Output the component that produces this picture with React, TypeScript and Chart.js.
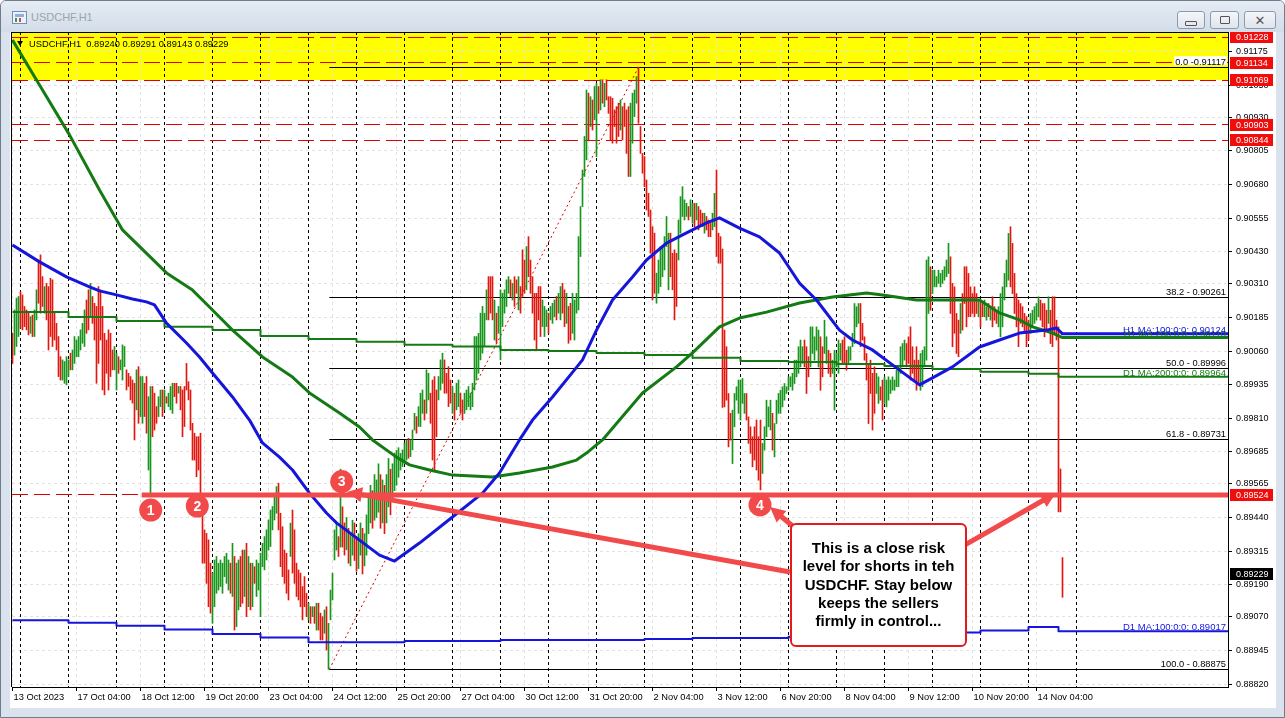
import React, { useEffect, useRef } from "react";
import { Chart, registerables } from "chart.js";

Chart.register(...registerables);

// ---------------- data ----------------
const symbolTitle = "USDCHF,H1";
const lastBarOHLC = [0.8924, 0.89291, 0.89143, 0.89229];

const timeLabels = [
  "13 Oct 2023", "17 Oct 04:00", "18 Oct 12:00", "19 Oct 20:00", "23 Oct 04:00", "24 Oct 12:00",
  "25 Oct 20:00", "27 Oct 04:00", "30 Oct 12:00", "31 Oct 20:00", "2 Nov 04:00", "3 Nov 12:00",
  "6 Nov 20:00", "8 Nov 04:00", "9 Nov 12:00", "10 Nov 20:00", "14 Nov 04:00",
];
const barsPerTimeLabel = 32;
const firstSessionBar = 4;
const barsPerDay = 24;
const daySeparatorCount = 23;

const priceTicks = [
  0.91175, 0.9105, 0.9093, 0.90805, 0.9068, 0.90555, 0.9043, 0.9031, 0.90185, 0.9006,
  0.89935, 0.8981, 0.89685, 0.89565, 0.8944, 0.89315, 0.8919, 0.8907, 0.88945, 0.8882,
];

// hourly bars, prices x 100000
const barHigh5 = [
  90126,90213,90257,90263,90281,90269,90226,90213,90201,90188,
  90194,90213,90288,90399,90418,90337,90300,90312,90300,90331,
  90325,90201,90163,90114,90039,90027,90021,90039,90027,90052,
  90064,90114,90101,90114,90139,90163,90213,90250,90288,90312,
  90263,90238,90226,90300,90288,90226,90126,90101,90139,90126,
  90064,90077,90052,90039,90027,90083,90077,89990,89977,89965,
  89952,89940,89990,90002,89965,89965,89940,89965,89890,89928,
  89928,89903,89853,89890,89915,89915,89915,89890,89903,89928,
  89940,89940,89940,89928,89928,89915,89928,90014,89946,89915,
  89791,89754,89741,89741,89754,89506,89394,89381,89357,89270,
  89233,89282,89295,89270,89282,89270,89295,89307,89282,89270,
  89344,89295,89270,89282,89295,89319,89319,89344,89295,89270,
  89270,89257,89282,89270,89307,89344,89369,89394,89431,89468,
  89481,89518,89555,89568,89456,89406,89319,89307,89245,89419,
  89468,89394,89270,89245,89233,89183,89220,89158,89121,89108,
  89108,89108,89121,89121,89084,89071,89096,89108,89046,89170,
  89233,89394,89419,89369,89620,89480,89420,89440,89400,89380,
  89430,89420,89360,89380,89420,89400,89380,89450,89520,89560,
  89540,89600,89580,89640,89600,89580,89560,89600,89660,89620,
  89640,89680,89690,89700,89679,89692,89717,89729,89735,89729,
  89766,89828,89816,89853,89903,89915,89878,89990,89977,89903,
  89952,89965,89915,89965,90027,90052,90027,89977,90002,89952,
  89928,89903,89940,89952,89903,89878,89903,89915,89928,89903,
  89940,90114,90114,90126,90201,90226,90201,90288,90337,90337,
  90337,90250,90201,90226,90288,90275,90288,90325,90337,90325,
  90312,90337,90325,90337,90300,90437,90399,90449,90486,90399,
  90337,90275,90275,90300,90300,90250,90226,90213,90201,90226,
  90238,90250,90263,90275,90300,90312,90288,90275,90226,90238,
  90275,90250,90275,90486,90598,90734,90859,91032,91020,91007,
  90995,91045,91057,91045,91070,91070,91057,91070,91007,91007,
  91001,90958,90970,90983,90995,90970,90983,90958,90970,90983,
  91020,91032,91082,91117,90896,90796,90784,90697,90647,90585,
  90523,90499,90350,90399,90449,90449,90486,90561,90499,90499,
  90424,90437,90424,90548,90635,90672,90623,90610,90598,90623,
  90610,90610,90610,90598,90585,90573,90573,90561,90548,90536,
  90573,90647,90734,90499,90486,90440,90138,90076,89902,89828,
  89840,89902,89927,89952,89952,89958,89902,89902,89815,89778,
  89741,89778,89803,89741,89803,89716,89778,89877,89852,89877,
  89828,89790,89877,89902,89914,89927,89939,89927,89964,89964,
  89977,90026,90026,90076,90101,90076,90101,90076,90039,90150,
  90150,90113,90150,90138,90113,90076,90175,90113,90063,90051,
  90026,90063,90051,90101,90088,90101,90113,90063,90076,90076,
  90126,90237,90225,90237,90237,90163,90113,90051,90014,90026,
  89977,90001,89977,89964,89927,89952,89964,89952,89964,89952,
  89964,89952,89989,90001,90076,90088,90101,90088,90113,90150,
  90076,90026,90076,90026,90051,90063,90076,90399,90411,90374,
  90361,90361,90337,90361,90349,90361,90374,90399,90461,90411,
  90312,90299,90200,90175,90237,90274,90374,90374,90349,90299,
  90274,90299,90274,90250,90250,90237,90250,90225,90237,90225,
  90262,90225,90212,90225,90274,90299,90349,90399,90498,90523,
  90461,90349,90274,90250,90237,90225,90200,90188,90175,90200,
  90212,90225,90237,90262,90250,90237,90237,90212,90262,90212,
  90262,90262,90175,90150,89621,89291,
];
const barLow5 = [
  90014,90045,90077,90114,90145,90139,90151,90139,90120,90126,
  90114,90114,90176,90238,90201,90226,90201,90176,90064,90114,
  90077,90101,90064,89965,89952,89952,89940,89934,89965,89990,
  89990,90014,90039,90039,90064,90089,90077,90126,90139,90188,
  90163,90101,89940,90014,90101,89915,89897,89977,89915,89965,
  89990,89990,89915,89977,89990,89952,90002,89915,89928,89878,
  89866,89729,89841,89791,89816,89791,89816,89754,89617,89527,
  89741,89766,89791,89816,89853,89816,89841,89866,89853,89841,
  89828,89890,89866,89903,89841,89741,89779,89915,89878,89766,
  89654,89654,89592,89617,89525,89270,89270,89195,89108,89084,
  89046,89108,89158,89170,89183,89158,89220,89195,89170,89158,
  89146,89021,89034,89096,89108,89121,89146,89071,89108,89096,
  89108,89195,89146,89170,89071,89257,89245,89282,89319,89332,
  89394,89431,89456,89394,89257,89220,89195,89158,89133,89295,
  89233,89195,89146,89133,89108,89059,89108,89071,89059,89046,
  89071,89046,89021,89021,88984,88984,89009,88947,88875,89059,
  89133,89282,89319,89295,89330,89330,89300,89320,89270,89260,
  89300,89280,89240,89250,89300,89230,89260,89300,89380,89420,
  89400,89430,89440,89460,89400,89420,89380,89420,89480,89450,
  89500,89540,89560,89590,89617,89630,89642,89654,89661,89667,
  89692,89766,89754,89779,89779,89828,89803,89828,89878,89791,
  89654,89617,89741,89878,89915,89940,89903,89903,89853,89866,
  89828,89803,89841,89853,89828,89803,89828,89841,89853,89841,
  89853,89915,89952,89977,90027,90052,90077,90176,90176,90201,
  90176,90101,90089,90126,90027,90151,90201,90226,90275,90263,
  90250,90226,90275,90213,90201,90263,90275,90288,90337,90275,
  90201,90101,90064,90176,90114,90151,90114,90151,90126,90176,
  90163,90188,90176,90201,90176,90201,90151,90163,90089,90101,
  90126,90101,90201,90213,90412,90598,90710,90772,90846,90896,
  90883,90921,90784,90945,90958,90983,90970,90995,90945,90846,
  90834,90896,90834,90859,90883,90846,90896,90796,90710,90710,
  90834,90933,90983,90908,90796,90722,90672,90585,90561,90424,
  90250,90275,90238,90275,90300,90337,90362,90449,90288,90337,
  90288,90176,90226,90399,90499,90561,90548,90561,90548,90561,
  90536,90523,90548,90511,90523,90523,90499,90511,90486,90486,
  90511,90523,90412,90387,90387,89850,89852,89877,89703,89728,
  89641,89778,89877,89828,89803,89865,89828,89803,89716,89679,
  89629,89654,89617,89579,89543,89604,89691,89741,89778,89766,
  89691,89666,89790,89828,89828,89852,89877,89902,89914,89927,
  89914,89939,89964,89977,90001,90014,90001,89902,89964,90001,
  90051,90026,90063,90001,89914,89964,90051,90014,89977,89964,
  89977,89840,90001,89977,90026,90014,90014,89989,90014,90026,
  90076,90088,90150,90163,90076,90101,90026,89952,89790,89902,
  89766,89828,89902,89865,89877,89803,89865,89852,89877,89902,
  89914,89914,89927,89927,89977,90001,90026,90001,90014,89952,
  89977,89952,89914,89939,89914,89927,90001,90026,90200,90212,
  90274,90299,90299,90312,90299,90312,90324,90337,90349,90200,
  90076,90126,90051,90039,90126,90138,90237,90150,90188,90188,
  90200,90188,90200,90188,90150,90188,90188,90175,90188,90175,
  90150,90175,90163,90150,90113,90150,90250,90299,90324,90299,
  90274,90200,90150,90076,90163,90150,90126,90076,90101,90126,
  90150,90163,90175,90188,90175,90150,90113,90138,90163,90088,
  90076,90126,90101,89461,89461,89143,
];
// u = bullish (green), d = bearish (red)
const barDirection =
  "duuudddddu" + "duuddduddd" + "ddddduuuud" + "uuuuuuuddu" + "dddddddddd" +
  "duuduuuddd" + "dduduudduu" + "ddduududuu" + "uddudddddd" + "dddddddddd" +
  "uuuuuuuuud" + "uduuddudud" + "uduuuuuuuu" + "uuuddddddu" + "ddddddddud" +
  "ududdduduu" + "uuududdudu" + "udduuduuuu" + "duuududuud" + "uuuuuuuudu" +
  "uuduuuduud" + "ddduuudddd" + "uduudduuuu" + "uuuuuuuudd" + "duduuuuuud" +
  "uddudddudd" + "ddddduuudu" + "uuduuddudd" + "uuuuuuuudu" + "duudududdd" +
  "dddduddddu" + "uuuddddddd" + "dduuuuuuud" + "ddduuuuudu" + "ududdduddd" +
  "uudddddddd" + "uuuuuuuddd" + "ddddduuuuu" + "duuuuuuuuu" + "uuuuuudddu" +
  "uuuudduudd" + "uuuuuddduu" + "uuuudddddd" + "dduudduuuu" + "uuuuuuuddd" +
  "dddduuuuud" + "uuuuuuuuud" + "dddduddddd" + "dddudduudu" + "ddduuuuuud" +
  "dddddddddu" + "uuuuddddud" + "dddddd";

// moving averages: [bar index, price]
const h1Ma100 = [
  [0, 0.90455], [13.5, 0.90392], [27, 0.90336], [38.5, 0.90299], [43.5, 0.90284], [52, 0.90269],
  [60, 0.90254], [67, 0.90243], [71, 0.90232], [77, 0.90164], [87, 0.9009], [93.5, 0.90038],
  [100, 0.89978], [110, 0.89889], [118.5, 0.89803], [125, 0.89718], [133.5, 0.89665], [140, 0.89617],
  [148.5, 0.89531], [157, 0.89457], [162, 0.8942], [173.5, 0.89356], [183.5, 0.893], [191, 0.89278],
  [203.5, 0.89345], [220, 0.89442], [235, 0.89531], [243.5, 0.89606], [253.5, 0.89729], [260, 0.89803],
  [270, 0.89889], [282, 0.89999], [285, 0.90027], [292, 0.90138], [300, 0.9025], [310, 0.90336],
  [317, 0.90399], [327, 0.90462], [337, 0.905], [347, 0.90537], [353.5, 0.90556], [363.5, 0.90518],
  [373.5, 0.90485], [383.5, 0.90425], [393.5, 0.90313], [402, 0.9025], [413.5, 0.90138], [420, 0.90101],
  [430, 0.90064], [443.5, 0.89989], [453.5, 0.89934], [460, 0.8996], [470, 0.90001], [483.5, 0.90075],
  [493.5, 0.90101], [503.5, 0.90127], [517, 0.90138], [522, 0.90146], [525, 0.90124],
];
const h1Ma200 = [
  [0, 0.91218], [13.5, 0.91051], [28.5, 0.90865], [43.5, 0.9066], [55, 0.90511], [77, 0.90351],
  [90, 0.90287], [100, 0.90213], [110, 0.90138], [125, 0.90038], [140, 0.89963], [148.5, 0.89904],
  [163.5, 0.89829], [173.5, 0.89777], [180, 0.89729], [192, 0.89665], [198.5, 0.89636], [208.5, 0.89617],
  [220, 0.89598], [240, 0.89591], [253.5, 0.89606], [270, 0.89628], [282, 0.89654], [287, 0.8968],
  [295, 0.89729], [303.5, 0.89803], [315, 0.89904], [332, 0.90001], [340, 0.90053], [353.5, 0.9015],
  [363.5, 0.90183], [377, 0.90205], [393.5, 0.90239], [410, 0.90261], [427, 0.90276], [435, 0.90269],
  [452, 0.9025], [483.5, 0.9025], [493.5, 0.90202], [503.5, 0.90176], [510, 0.9015], [520, 0.90127],
  [525, 0.9011],
];
// daily MAs (one value per trading day, starting at these bars)
const dailyStarts = [0, 28, 52, 76, 100, 124, 148, 172, 196, 220, 244, 268, 292, 316, 340, 364, 388, 412, 436, 460, 484, 508, 523];
const d1Ma200 = [0.90205, 0.90187, 0.90172, 0.9015, 0.90138, 0.90116, 0.90105, 0.90095, 0.90083, 0.90077, 0.90064, 0.9006, 0.90053, 0.90045, 0.90035, 0.90023, 0.90019, 0.90012, 0.90004, 0.89993, 0.89983, 0.89975, 0.89964];
const d1Ma100 = [0.89058, 0.89048, 0.89037, 0.89023, 0.89006, 0.88993, 0.88976, 0.88976, 0.8898, 0.8898, 0.88984, 0.88984, 0.88984, 0.88988, 0.88991, 0.88991, 0.88996, 0.89001, 0.89006, 0.89012, 0.89019, 0.89032, 0.89017];

const maLabelTexts = ["H1 MA:100:0:0: 0.90124", "H1 MA:200:0:0: 0.90110", "D1 MA:200:0:0: 0.89964", "D1 MA:100:0:0: 0.89017"];
const maLabelPrices = [0.90124, 0.9011, 0.89964, 0.89017];

const redLevels = [0.91228, 0.91134, 0.91069, 0.90903, 0.90844, 0.89524];
const yellowZone = [0.91069, 0.913];
const keyLevel = 0.89524;
const keyLevelStartBar = 64.6;

const fibHigh = 0.91117;
const fibLow = 0.88875;
const fibLowBar = 158.4;
const fibHighBar = 313;
const fibLevels = [0, 38.2, 50, 61.8, 100];
const fibLabels = ["0.0 -0.91117", "38.2 - 0.90261", "50.0 - 0.89996", "61.8 - 0.89731", "100.0 - 0.88875"];

const markerTexts = ["1", "2", "3", "4"];
const markerBars = [69.1, 92.4, 164.6, 373.75];
const markerPrices = [0.89468, 0.89483, 0.89574, 0.89487];

const noteLines = ["This is a close risk", "level for shorts in teh", "USDCHF. Stay below", "keeps the sellers", "firmly in control..."];
const noteBars = [389.25, 476.75];
const notePrices = [0.89416, 0.88962];
const arrowFrom = [[388.75, 0.89237], [391.25, 0.89401], [476.25, 0.89338]];
const arrowTo = [[167.25, 0.89535], [378.75, 0.89479], [521.75, 0.89531]];

// ---------------- view ----------------
const X_MIN = -0.25;
const X_MAX = 607.75;
const Y_MIN = 0.88809;
const Y_MAX = 0.91248;

const COL = {
  up: "#16961a",
  down: "#e3170f",
  blue: "#1515dc",
  green: "#147a14",
  key: "#f24a4a",
  red: "#e00000",
  grid: "#e2e2e2",
};
const SANS = "'Liberation Sans', Arial, sans-serif";

function seg(ctx: any, x1: number, y1: number, x2: number, y2: number) {
  ctx.beginPath();
  ctx.moveTo(x1, y1);
  ctx.lineTo(x2, y2);
  ctx.stroke();
}
const crisp = (v: number) => Math.floor(v) + 0.5;

function arrow(ctx: any, x1: number, y1: number, x2: number, y2: number, w: number, head: number) {
  const a = Math.atan2(y2 - y1, x2 - x1);
  const c = Math.cos(a), s = Math.sin(a);
  ctx.lineWidth = w;
  ctx.lineCap = "butt";
  seg(ctx, x1, y1, x2 - c * head * 0.8, y2 - s * head * 0.8);
  ctx.beginPath();
  ctx.moveTo(x2, y2);
  ctx.lineTo(x2 - c * head + s * head * 0.5, y2 - s * head - c * head * 0.5);
  ctx.lineTo(x2 - c * head - s * head * 0.5, y2 - s * head + c * head * 0.5);
  ctx.closePath();
  ctx.fill();
}

const noPad = (s: any) => {
  s.paddingLeft = 0;
  s.paddingRight = 0;
  s.paddingTop = 0;
  s.paddingBottom = 0;
};

const decorations = {
  id: "mtDecor",
  beforeDatasetsDraw(chart: any) {
    const { ctx, chartArea: a, scales } = chart;
    const X = (v: number) => scales.x.getPixelForValue(v);
    const Y = (v: number) => scales.y.getPixelForValue(v);
    ctx.save();
    ctx.beginPath();
    ctx.rect(a.left, a.top, a.right - a.left, a.bottom - a.top);
    ctx.clip();
    // yellow zone
    const yz1 = Y(yellowZone[1]), yz0 = Y(yellowZone[0]);
    ctx.fillStyle = "#ffff00";
    ctx.fillRect(a.left, yz1, a.right - a.left, yz0 - yz1);
    // light grid
    ctx.lineWidth = 1;
    ctx.strokeStyle = COL.grid;
    ctx.setLineDash([3, 3]);
    priceTicks.forEach((p) => { const y = crisp(Y(p)); seg(ctx, a.left, y, a.right, y); });
    timeLabels.forEach((_, k) => { const x = crisp(X(k * barsPerTimeLabel)); seg(ctx, x, a.top, x, a.bottom); });
    // day separators
    ctx.strokeStyle = "#000";
    for (let k = 0; k < daySeparatorCount; k++) {
      const x = crisp(X(firstSessionBar + k * barsPerDay));
      seg(ctx, x, a.top, x, a.bottom);
    }
    // red dashed levels
    ctx.strokeStyle = COL.red;
    ctx.setLineDash([16, 6]);
    redLevels.forEach((p) => { const y = crisp(Y(p)); seg(ctx, a.left, y, a.right, y); });
    // fibonacci
    ctx.setLineDash([]);
    ctx.strokeStyle = "#000";
    const fx = X(fibLowBar);
    fibLevels.forEach((lv) => {
      const y = crisp(Y(fibHigh - ((fibHigh - fibLow) * lv) / 100));
      seg(ctx, fx, y, a.right, y);
    });
    ctx.strokeStyle = COL.red;
    ctx.setLineDash([2, 3]);
    seg(ctx, X(fibLowBar), Y(fibLow), X(fibHighBar), Y(fibHigh));
    ctx.restore();
  },
  afterDatasetsDraw(chart: any) {
    const { ctx, chartArea: a, scales } = chart;
    const X = (v: number) => scales.x.getPixelForValue(v);
    const Y = (v: number) => scales.y.getPixelForValue(v);
    ctx.save();
    ctx.beginPath();
    ctx.rect(a.left, a.top, a.right - a.left, a.bottom - a.top);
    ctx.clip();
    ctx.setLineDash([]);

    // text labels (fib + MA)
    ctx.font = `9.3px ${SANS}`;
    ctx.textAlign = "right";
    ctx.textBaseline = "alphabetic";
    fibLevels.forEach((lv, i) => {
      const y = Y(fibHigh - ((fibHigh - fibLow) * lv) / 100);
      if (lv === 0) {
        const w = ctx.measureText(fibLabels[i]).width;
        ctx.fillStyle = "#fff";
        ctx.fillRect(a.right - 3 - w, y - 11, w + 2, 9);
      }
      ctx.fillStyle = "#000";
      ctx.fillText(fibLabels[i], a.right - 2, y - 2);
    });
    const maColors = [COL.blue, COL.green, COL.green, COL.blue];
    ctx.font = `9.5px ${SANS}`;
    [1, 0, 2, 3].forEach((i) => {
      ctx.fillStyle = maColors[i];
      ctx.fillText(maLabelTexts[i], a.right - 2, Y(maLabelPrices[i]) - 1);
    });

    // key level thick line
    ctx.strokeStyle = COL.key;
    ctx.lineWidth = 5;
    seg(ctx, X(keyLevelStartBar), Y(keyLevel), a.right, Y(keyLevel));

    // arrows
    ctx.fillStyle = COL.key;
    arrowFrom.forEach((f, i) => {
      const t = arrowTo[i];
      arrow(ctx, X(f[0]), Y(f[1]), X(t[0]), Y(t[1]), 5, 15);
    });

    // note box
    const bx0 = X(noteBars[0]), bx1 = X(noteBars[1]);
    const by0 = Y(notePrices[0]), by1 = Y(notePrices[1]);
    ctx.beginPath();
    if (ctx.roundRect) ctx.roundRect(bx0, by0, bx1 - bx0, by1 - by0, 5);
    else ctx.rect(bx0, by0, bx1 - bx0, by1 - by0);
    ctx.fillStyle = "#ffffff";
    ctx.fill();
    ctx.lineWidth = 2;
    ctx.strokeStyle = "#e31b1b";
    ctx.stroke();
    ctx.fillStyle = "#000";
    ctx.font = `bold 15px ${SANS}`;
    ctx.textAlign = "center";
    ctx.textBaseline = "middle";
    const cx = (bx0 + bx1) / 2;
    noteLines.forEach((t, i) => ctx.fillText(t, cx, by0 + 25 + i * 18.2));

    // numbered markers
    markerTexts.forEach((t, i) => {
      const x = X(markerBars[i]), y = Y(markerPrices[i]);
      ctx.beginPath();
      ctx.arc(x, y, 11.5, 0, Math.PI * 2);
      ctx.fillStyle = COL.key;
      ctx.fill();
      ctx.fillStyle = "#fff";
      ctx.font = `bold 14px ${SANS}`;
      ctx.fillText(t, x, y + 1);
    });

    // header
    ctx.fillStyle = "#000";
    ctx.beginPath();
    ctx.moveTo(a.left + 5, a.top + 9);
    ctx.lineTo(a.left + 11, a.top + 9);
    ctx.lineTo(a.left + 8, a.top + 14);
    ctx.closePath();
    ctx.fill();
    ctx.font = `9.3px ${SANS}`;
    ctx.textAlign = "left";
    ctx.textBaseline = "alphabetic";
    ctx.fillText(`${symbolTitle}  ${lastBarOHLC.map((v) => v.toFixed(5)).join(" ")}`, a.left + 17, a.top + 15);
    ctx.restore();

    // plot frame (left / top)
    ctx.save();
    ctx.strokeStyle = "#000";
    ctx.lineWidth = 1;
    seg(ctx, a.left - 0.5, a.top + 0.5, a.right, a.top + 0.5);
    seg(ctx, a.left - 0.5, a.top, a.left - 0.5, a.bottom);
    ctx.restore();
  },
  afterDraw(chart: any) {
    const { ctx, chartArea: a, scales } = chart;
    const Y = (v: number) => scales.y.getPixelForValue(v);
    ctx.save();
    ctx.font = `9px ${SANS}`;
    ctx.textAlign = "left";
    ctx.textBaseline = "middle";
    const box = (p: number, bg: string) => {
      const y = Math.round(Y(p));
      ctx.fillStyle = bg;
      ctx.fillRect(a.right + 2, y - 6, 43, 12);
      ctx.fillStyle = "#fff";
      ctx.fillText(p.toFixed(5), a.right + 8, y + 0.5);
    };
    redLevels.forEach((p) => box(p, "#f20d0d"));
    box(lastBarOHLC[3], "#000");
    ctx.restore();
  },
};

export default function App() {
  const ref = useRef<HTMLCanvasElement | null>(null);

  useEffect(() => {
    const n = Math.min(barHigh5.length, barLow5.length, barDirection.length);
    const bars: any[] = [];
    const colors: string[] = [];
    for (let i = 0; i < n; i++) {
      bars.push({ x: i, y: [barLow5[i] / 1e5, barHigh5[i] / 1e5] });
      colors.push(barDirection[i] === "u" ? COL.up : COL.down);
    }
    const toPts = (arr: number[][]) => [
      ...arr.map(([x, y]) => ({ x, y })),
      { x: X_MAX, y: arr[arr.length - 1][1] },
    ];
    const stepPts = (vals: number[]) => [
      ...dailyStarts.map((s, i) => ({ x: s, y: vals[i] })),
      { x: X_MAX, y: vals[vals.length - 1] },
    ];
    const lineDs = (data: any[], color: string, width: number, order: number, stepped = false) => ({
      type: "line",
      data,
      borderColor: color,
      borderWidth: width,
      pointRadius: 0,
      tension: 0,
      stepped: stepped ? "before" : false,
      borderJoinStyle: "round",
      fill: false,
      order,
    });

    const chart = new Chart(ref.current as HTMLCanvasElement, {
      type: "bar",
      data: {
        datasets: [
          { type: "bar", data: bars, backgroundColor: colors, barThickness: 1, borderWidth: 0, grouped: false, order: 10 } as any,
          lineDs(stepPts(d1Ma200), COL.green, 2, 5, true),
          lineDs(stepPts(d1Ma100), COL.blue, 2, 5, true),
          lineDs(toPts(h1Ma200), COL.green, 3, 2),
          lineDs(toPts(h1Ma100), COL.blue, 3, 1),
        ] as any,
      },
      options: {
        animation: false,
        responsive: false,
        events: [],
        layout: { padding: { left: 2, top: 0, right: 0, bottom: 0 } },
        plugins: { legend: { display: false }, tooltip: { enabled: false } },
        scales: {
          x: {
            type: "linear",
            min: X_MIN,
            max: X_MAX,
            offset: false,
            grid: { display: true, drawOnChartArea: false, drawTicks: true, tickLength: 4, tickColor: "#000", offset: false },
            border: { display: true, color: "#000" },
            afterBuildTicks: (s: any) => {
              s.ticks = timeLabels.map((_, k) => ({ value: k * barsPerTimeLabel }));
            },
            afterFit: (s: any) => { s.height = 21; noPad(s); },
            ticks: {
              autoSkip: false,
              maxRotation: 0,
              minRotation: 0,
              align: "start",
              labelOffset: 1,
              padding: 1,
              color: "#000",
              font: { family: SANS, size: 9.3 },
              callback: (_v: any, i: number) => timeLabels[i],
            },
          },
          y: {
            type: "linear",
            position: "right",
            min: Y_MIN,
            max: Y_MAX,
            beginAtZero: false,
            grid: { display: true, drawOnChartArea: false, drawTicks: true, tickLength: 4, tickColor: "#000" },
            border: { display: true, color: "#000" },
            afterBuildTicks: (s: any) => {
              s.ticks = priceTicks.map((v) => ({ value: v }));
            },
            afterFit: (s: any) => { s.width = 48; noPad(s); },
            ticks: {
              autoSkip: false,
              padding: 4,
              color: "#000",
              font: { family: SANS, size: 9 },
              callback: (v: any) => Number(v).toFixed(5),
            },
          },
        },
      } as any,
      plugins: [decorations],
    });
    return () => chart.destroy();
  }, []);

  const btn = (left: number, width: number, glyph: React.ReactNode) => (
    <div
      style={{
        position: "absolute", left, top: 10, width, height: 18, boxSizing: "border-box",
        border: "1px solid #8e9aab", borderRadius: 3,
        background: "linear-gradient(#f4f6f9, #dfe5ed)",
        display: "flex", alignItems: "center", justifyContent: "center",
      }}
    >
      {glyph}
    </div>
  );

  return (
    <div
      style={{
        position: "fixed", left: 0, top: 0, width: 1285, height: 718, overflow: "hidden",
        background: "#d9e2ed", boxSizing: "border-box", border: "1px solid #6f7c8c",
        borderRadius: "6px 6px 0 0", fontFamily: SANS,
      }}
    >
      {/* title bar */}
      <div style={{ position: "absolute", left: 0, top: 0, width: 1285, height: 31, background: "linear-gradient(#e4ebf3, #d3dde9)" }} />
      <div style={{ position: "absolute", left: 11, top: 10, width: 15, height: 13, border: "1px solid #6f8fbf", background: "#eef3fa", boxSizing: "border-box" }}>
        <div style={{ position: "absolute", left: 2, top: 2, width: 9, height: 3, background: "#8fb0dd" }} />
        <div style={{ position: "absolute", left: 2, top: 6, width: 2, height: 4, background: "#5a8a4a" }} />
        <div style={{ position: "absolute", left: 6, top: 6, width: 2, height: 4, background: "#c05050" }} />
      </div>
      <div style={{ position: "absolute", left: 30, top: 10, fontSize: 11, color: "#9aa3ad", fontFamily: SANS, whiteSpace: "nowrap" }}>
        {symbolTitle}
      </div>
      {btn(1176, 28, <div style={{ width: 10, height: 3, border: "1px solid #555", borderRadius: 1, marginTop: 6 }} />)}
      {btn(1209, 29, <div style={{ width: 8, height: 6, border: "1px solid #555", borderRadius: 1 }} />)}
      {btn(1243, 32, <div style={{ fontSize: 13, color: "#555", lineHeight: "13px", fontFamily: "'DejaVu Sans', sans-serif" }}>✕</div>)}
      {/* chart area */}
      <div style={{ position: "absolute", left: 9, top: 31, width: 1266, height: 676, background: "#fff" }}>
        <canvas ref={ref} width={1266} height={676} style={{ display: "block", width: 1266, height: 676 }} />
      </div>
    </div>
  );
}
